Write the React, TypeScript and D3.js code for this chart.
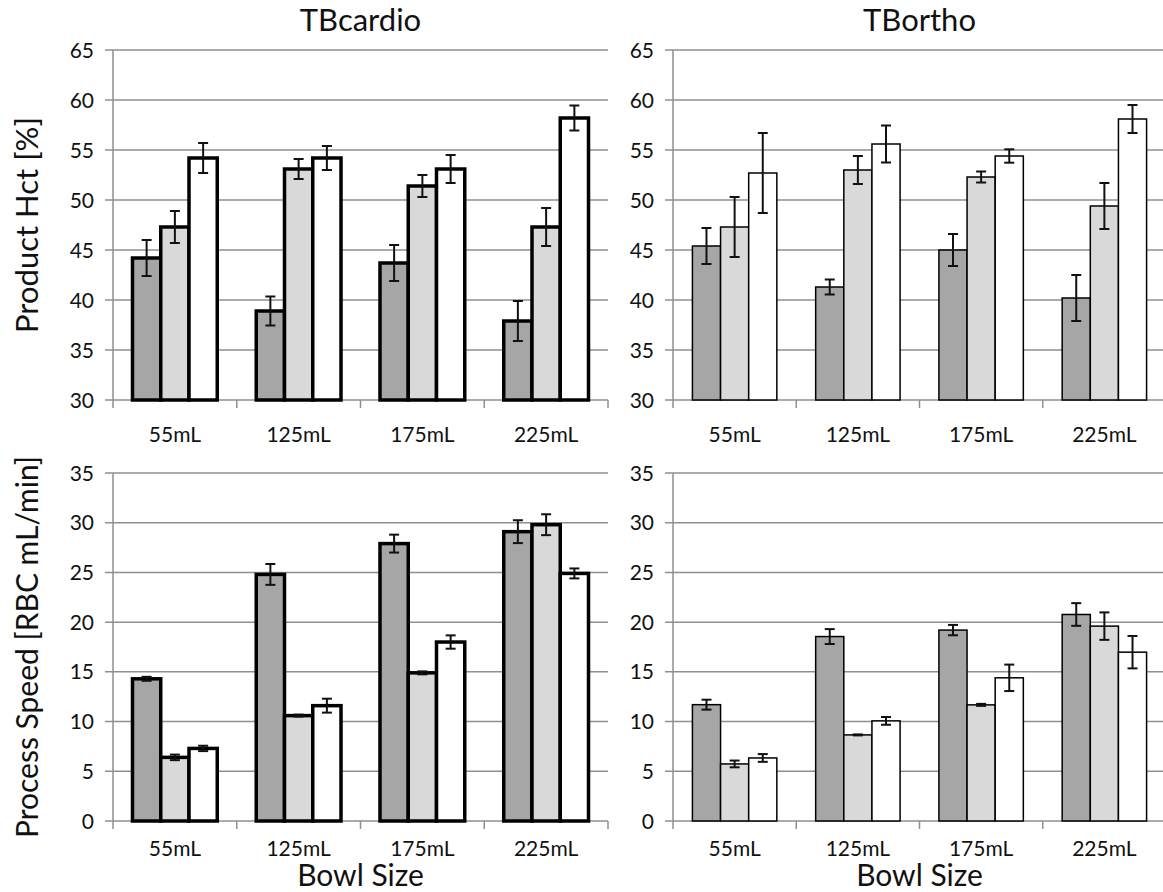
import React from 'react';
import * as d3 from 'd3';

// categories and series (dark, light, white)
const categories = ['55mL', '125mL', '175mL', '225mL'];
const seriesKeys = ['dark', 'light', 'white'];
const seriesFill = ['#a6a6a6', '#d9d9d9', '#ffffff'];

const cardioHct = [
  [44.2, 38.9, 43.7, 37.9],
  [47.3, 53.1, 51.4, 47.3],
  [54.2, 54.2, 53.1, 58.2],
];
const cardioHctErr = [
  [1.8, 1.45, 1.8, 2.0],
  [1.6, 1.0, 1.1, 1.9],
  [1.5, 1.2, 1.4, 1.25],
];

const orthoHct = [
  [45.4, 41.3, 45.0, 40.2],
  [47.3, 53.0, 52.3, 49.4],
  [52.7, 55.6, 54.4, 58.1],
];
const orthoHctErr = [
  [1.8, 0.75, 1.6, 2.3],
  [3.0, 1.4, 0.55, 2.3],
  [4.0, 1.85, 0.67, 1.4],
];

const cardioSpeed = [
  [14.3, 24.8, 27.9, 29.1],
  [6.4, 10.6, 14.9, 29.8],
  [7.3, 11.6, 18.0, 24.9],
];
const cardioSpeedErr = [
  [0.2, 1.05, 0.9, 1.15],
  [0.28, 0.1, 0.15, 1.05],
  [0.27, 0.7, 0.67, 0.5],
];

const orthoSpeed = [
  [11.7, 18.55, 19.2, 20.77],
  [5.74, 8.66, 11.68, 19.6],
  [6.34, 10.07, 14.4, 16.98],
];
const orthoSpeedErr = [
  [0.5, 0.75, 0.52, 1.14],
  [0.34, 0.05, 0.1, 1.38],
  [0.39, 0.39, 1.33, 1.63],
];

const hctTicks = [30, 35, 40, 45, 50, 55, 60, 65];
const speedTicks = [0, 5, 10, 15, 20, 25, 30, 35];

const FONT = 'Lato, "Open Sans", sans-serif';
const GRID = '#8f8f8f';

type PanelProps = {
  left: number; right: number; top: number; bottom: number;
  domain: [number, number]; ticks: number[];
  values: number[][]; errors: number[][];
  barStroke: number; labelY: number;
};

const Panel = ({ left, right, top, bottom, domain, ticks, values, errors, barStroke, labelY }: PanelProps) => {
  const y = d3.scaleLinear().domain(domain).range([bottom, top]);
  const x0 = d3.scaleBand().domain(categories).range([left, right]).paddingInner(0).paddingOuter(0);
  const x1 = d3.scaleBand().domain(seriesKeys).range([0, x0.bandwidth()]).paddingInner(0).paddingOuter(0.69);
  const bw = x1.bandwidth();

  return (
    <g>
      {ticks.map(t => (
        <g key={t}>
          <line x1={left - 8} x2={right} y1={y(t)} y2={y(t)} stroke={GRID} strokeWidth={1.5} />
          <text x={left - 19} y={y(t)} dy="0.36em" textAnchor="end" fontSize={21} fill="#111">{t}</text>
        </g>
      ))}
      <line x1={left} x2={left} y1={top} y2={bottom + 8} stroke={GRID} strokeWidth={1.5} />
      {categories.map(c => (
        <line key={c} x1={x0(c)! + x0.bandwidth()} x2={x0(c)! + x0.bandwidth()}
          y1={bottom} y2={bottom + 8} stroke={GRID} strokeWidth={1.5} />
      ))}
      {categories.map((c, ci) => (
        <g key={c}>
          {seriesKeys.map((s, si) => (
            <rect key={s} x={x0(c)! + x1(s)!} y={y(values[si][ci])} width={bw}
              height={y(domain[0]) - y(values[si][ci])}
              fill={seriesFill[si]} stroke="#000" strokeWidth={barStroke} />
          ))}
          {seriesKeys.map((s, si) => {
            const cx = x0(c)! + x1(s)! + bw / 2;
            const hi = y(values[si][ci] + errors[si][ci]);
            const lo = y(values[si][ci] - errors[si][ci]);
            return (
              <g key={s + 'e'} stroke="#111" strokeWidth={2}>
                <line x1={cx} x2={cx} y1={hi} y2={lo} />
                <line x1={cx - 5} x2={cx + 5} y1={hi} y2={hi} />
                <line x1={cx - 5} x2={cx + 5} y1={lo} y2={lo} />
              </g>
            );
          })}
          <text x={x0(c)! + x0.bandwidth() / 2} y={labelY} textAnchor="middle" fontSize={21} fill="#111">{c}</text>
        </g>
      ))}
    </g>
  );
};

export default function App() {
  const L = { left: 113, right: 608 };
  const R = { left: 673, right: 1166 };
  const T = { top: 50, bottom: 400, labelY: 442 };
  const B = { top: 473, bottom: 821, labelY: 856 };
  return (
    <svg width={1163} height={892} style={{ position: 'absolute', left: 0, top: 0, background: '#fff' }}
      fontFamily={FONT}>
      <text x={(L.left + L.right) / 2} y={31} textAnchor="middle" fontSize={31} fill="#111">TBcardio</text>
      <text x={(R.left + R.right) / 2} y={31} textAnchor="middle" fontSize={31} fill="#111">TBortho</text>

      <Panel {...L} {...T} domain={[30, 65]} ticks={hctTicks} values={cardioHct} errors={cardioHctErr} barStroke={3.5} />
      <Panel {...R} {...T} domain={[30, 65]} ticks={hctTicks} values={orthoHct} errors={orthoHctErr} barStroke={1.5} />
      <Panel {...L} {...B} domain={[0, 35]} ticks={speedTicks} values={cardioSpeed} errors={cardioSpeedErr} barStroke={3.5} />
      <Panel {...R} {...B} domain={[0, 35]} ticks={speedTicks} values={orthoSpeed} errors={orthoSpeedErr} barStroke={1.5} />

      <text transform={`translate(38,${(T.top + T.bottom) / 2}) rotate(-90)`} textAnchor="middle" fontSize={31} fill="#111">Product Hct [%]</text>
      <text transform={`translate(38,${(B.top + B.bottom) / 2}) rotate(-90)`} textAnchor="middle" fontSize={30} fill="#111">Process Speed [RBC mL/min]</text>

      <text x={(L.left + L.right) / 2} y={886} textAnchor="middle" fontSize={30} fill="#111">Bowl Size</text>
      <text x={(R.left + R.right) / 2} y={886} textAnchor="middle" fontSize={30} fill="#111">Bowl Size</text>
    </svg>
  );
}
